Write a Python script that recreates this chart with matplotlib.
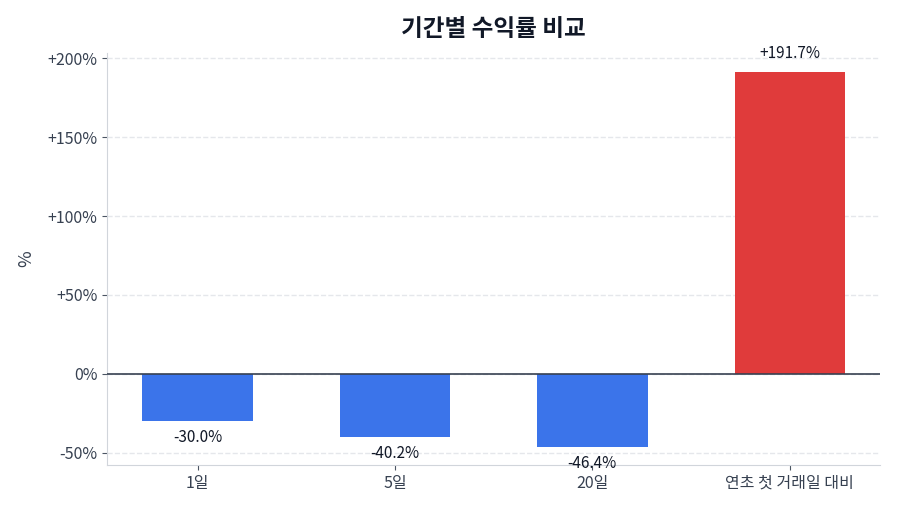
import matplotlib
matplotlib.use("Agg")
import matplotlib.pyplot as plt
from matplotlib.ticker import FuncFormatter

plt.rcParams['font.family'] = ['Noto Sans CJK KR', 'DejaVu Sans']

# data
periods = ["1일", "5일", "20일", "연초 첫 거래일 대비"]
returns = [-30.0, -40.2, -46.4, 191.7]

BLUE = "#3b74ea"
RED = "#e03b3b"
TEXT = "#374151"

colors = [RED if r > 0 else BLUE for r in returns]

fig = plt.figure(figsize=(9, 5.14), dpi=100)
ax = fig.add_axes([0.119, 0.095, 0.859, 0.802])

x = range(len(periods))
bars = ax.bar(x, returns, width=0.56, color=colors, zorder=3)

for b, r in zip(bars, returns):
    label = f"+{r:.1f}%" if r > 0 else f"{r:.1f}%"
    if r > 0:
        ax.annotate(label, (b.get_x() + b.get_width() / 2, r), xytext=(0, 7),
                    textcoords="offset points", ha="center", va="bottom",
                    fontsize=11, color="#111827")
    else:
        ax.annotate(label, (b.get_x() + b.get_width() / 2, r), xytext=(0, -6),
                    textcoords="offset points", ha="center", va="top",
                    fontsize=11, color="#111827")

ax.axhline(0, color="#374151", linewidth=1.2, zorder=4)
ax.set_ylim(-58, 203.5)
ax.set_yticks([-50, 0, 50, 100, 150, 200])
ax.yaxis.set_major_formatter(FuncFormatter(lambda v, p: f"+{v:.0f}%" if v > 0 else f"{v:.0f}%"))
ax.set_xticks(list(x))
ax.set_xticklabels(periods)
ax.tick_params(axis="both", labelsize=11.5, colors=TEXT)
ax.tick_params(axis="both", color="#4b5563")
ax.set_ylabel("%", fontsize=13, color=TEXT, labelpad=9)

ax.grid(axis="y", linestyle="--", color="#e5e7eb", linewidth=1, zorder=0)
for s in ["top", "right"]:
    ax.spines[s].set_visible(False)
for s in ["left", "bottom"]:
    ax.spines[s].set_color("#d1d5db")

ax.set_title("기간별 수익률 비교", fontsize=17, fontweight="bold", color="#111827", pad=12)

fig.savefig("out.png", dpi=100)
